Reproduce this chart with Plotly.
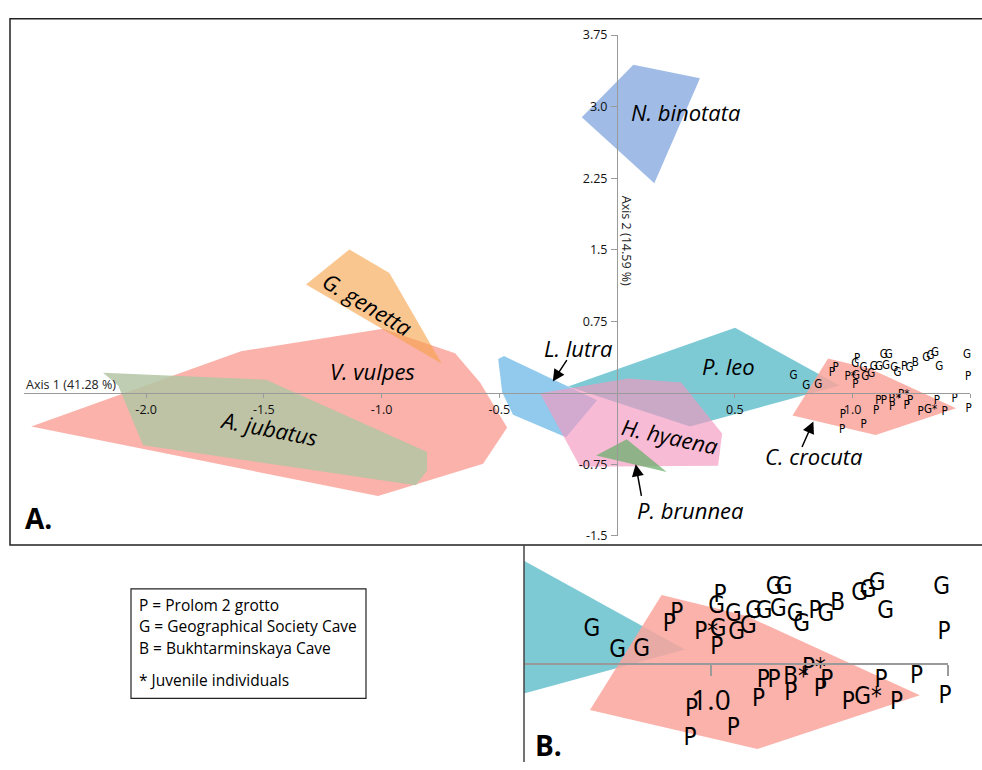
import plotly.graph_objects as go

# ---------------- data ----------------
x_tickvals = [-2.0, -1.5, -1.0, -0.5, 0.5, 1.0, 1.5]
x_ticktext = ["-2.0", "-1.5", "-1.0", "-0.5", "0.5", "1.0", ""]
y_tickvals = [3.75, 3.0, 2.25, 1.5, 0.75, -0.75, -1.5]
y_ticktext = ["3.75", "3.0", "2.25", "1.5", "0.75", "-0.75", "-1.5"]

vulpes_x = [-2.488, -1.597, -0.994, -0.688, -0.582, -0.467, -0.569, -1.015]
vulpes_y = [-0.354, 0.436, 0.672, 0.415, 0.108, -0.364, -0.744, -1.082]
genetta_x = [-1.137, -0.967, -0.744, -1.321]
genetta_y = [1.503, 1.256, 0.306, 1.136]
jubatus_x = [-2.183, -1.490, -0.807, -0.807, -0.854, -2.013, -2.119]
jubatus_y = [0.210, 0.138, -0.621, -0.815, -0.969, -0.549, 0.077]
binotata_x = [0.069, 0.352, 0.158, -0.150]
binotata_y = [3.438, 3.297, 2.197, 2.890]
lutra_x = [-0.505, -0.480, -0.085, -0.217, -0.442, -0.488]
lutra_y = [0.354, 0.385, -0.077, -0.467, -0.231, 0.005]
leo_x = [-0.208, 0.501, 0.945, 0.310]
leo_y = [0.067, 0.682, 0.077, -0.354]
hyaena_x = [-0.327, 0.047, 0.272, 0.446, 0.429, -0.157]
hyaena_y = [-0.005, 0.149, 0.108, -0.426, -0.764, -0.774]
brunnea_x = [-0.089, 0.041, 0.211]
brunnea_y = [-0.658, -0.487, -0.829]
crocuta_x = [0.896, 1.072, 1.440, 1.098, 0.745]
crocuta_y = [0.360, 0.254, -0.161, -0.441, -0.238]

species_names = ["V. vulpes", "G. genetta", "A. jubatus", "N. binotata", "L. lutra",
                 "P. leo", "H. hyaena", "P. brunnea", "C. crocuta"]
species_polys = [(vulpes_x, vulpes_y), (genetta_x, genetta_y), (jubatus_x, jubatus_y),
                 (binotata_x, binotata_y), (lutra_x, lutra_y), (leo_x, leo_y),
                 (hyaena_x, hyaena_y), (brunnea_x, brunnea_y), (crocuta_x, crocuta_y)]
species_colors = ["rgba(249,165,155,0.85)", "rgba(247,160,70,0.6)", "rgba(180,198,165,0.85)",
                  "rgba(120,160,220,0.7)", "rgba(100,180,230,0.7)", "rgba(70,180,195,0.7)",
                  "rgba(245,150,190,0.65)", "rgba(110,175,110,0.75)", "rgba(249,165,155,0.85)"]

label_x = [-1.040, -1.059, -1.478, 0.289, -0.166, 0.473, 0.225, 0.310, 0.837]
label_y = [0.231, 0.931, -0.364, 2.949, 0.467, 0.282, -0.456, -1.226, -0.662]
label_angle = [0, 31, 11, 0, 0, 0, 12, 0, 0]

point_labels = ["G", "G", "G", "P", "P", "P*", "G", "P", "G", "P", "G", "G", "G", "G", "G",
                "G", "G", "G", "G", "G", "P", "G", "B", "G", "G", "G", "G", "G", "P", "P",
                "G*", "P", "P", "P", "P", "P", "P", "P", "B*", "P", "P*", "P", "P", "P",
                "G*", "P", "P", "P"]
point_x = [0.749, 0.803, 0.854, 0.912, 0.928, 0.990, 1.015, 1.012, 1.012, 1.019, 1.047, 1.054,
           1.079, 1.090, 1.112, 1.142, 1.133, 1.154, 1.177, 1.191, 1.219, 1.242, 1.267, 1.313,
           1.331, 1.350, 1.368, 1.486, 1.491, 1.514, 1.561, 1.493, 0.959, 0.956, 1.047, 1.100,
           1.110, 1.133, 1.179, 1.168, 1.217, 1.230, 1.244, 1.289, 1.331, 1.358, 1.391, 1.433]
point_y = [0.178, 0.068, 0.076, 0.204, 0.263, 0.163, 0.178, 0.085, 0.297, 0.356, 0.254, 0.161,
           0.195, 0.271, 0.271, 0.280, 0.398, 0.398, 0.254, 0.204, 0.271, 0.254, 0.314, 0.365,
           0.382, 0.416, 0.271, 0.398, 0.161, -0.025, -0.015, -0.169, -0.238, -0.390, -0.339,
           -0.187, -0.085, -0.085, -0.071, -0.153, -0.025, -0.136, -0.085, -0.200, -0.178,
           -0.087, -0.204, -0.068]

legend_lines = ["P = Prolom 2 grotto", "G = Geographical Society Cave",
                "B = Bukhtarminskaya Cave", "* Juvenile individuals"]

# ---------------- layout helpers (pixels -> paper) ----------------
W, H = 982, 770
def px(x):
    return x / W
def py(y):
    return 1 - y / H

FONT = "Open Sans, Liberation Sans, sans-serif"
NARROW = "Liberation Sans Narrow, DejaVu Sans Condensed, Roboto, sans-serif"

fig = go.Figure()

for (xs, ys), col, name in zip(species_polys, species_colors, species_names):
    for xa, ya in (("x", "y"), ("x2", "y2")):
        fig.add_trace(go.Scatter(x=xs, y=ys, fill="toself", fillcolor=col, mode="none",
                                 name=name, showlegend=False, hoverinfo="name",
                                 xaxis=xa, yaxis=ya))

fig.add_trace(go.Scatter(x=point_x, y=point_y, text=point_labels, mode="text",
                         textfont=dict(family=NARROW, size=11.5, color="black"),
                         cliponaxis=False, showlegend=False, xaxis="x", yaxis="y"))
fig.add_trace(go.Scatter(x=point_x, y=point_y, text=point_labels, mode="text",
                         textfont=dict(family=NARROW, size=24, color="black"),
                         cliponaxis=False, showlegend=False, xaxis="x2", yaxis="y2"))

axcol = "#9a9a9a"
tickfont = dict(family=FONT, size=12.5, color="#111")

# panel A axes
fig.update_layout(
    xaxis=dict(domain=[px(23.7), px(970.3)], range=[-2.52, 1.5], anchor="free",
               position=py(392.5), showline=True, linecolor=axcol, linewidth=1,
               showgrid=False, zeroline=False, tickmode="array", tickvals=x_tickvals,
               ticktext=x_ticktext, ticks="outside", ticklen=4, tickcolor=axcol,
               tickfont=tickfont, ticklabelstandoff=1, fixedrange=True, layer="above traces"),
    yaxis=dict(domain=[py(538.8), py(26.7)], range=[-1.5, 3.75], anchor="free",
               position=px(617), showline=True, linecolor=axcol, linewidth=1,
               showgrid=False, zeroline=False, tickmode="array", tickvals=y_tickvals,
               ticktext=y_ticktext, ticks="outside", ticklen=6, tickcolor=axcol,
               tickfont=tickfont, ticklabelstandoff=1, fixedrange=True, layer="above traces"),
    xaxis2=dict(domain=[px(524), px(948.3)], range=[0.606, 1.5], anchor="free",
                position=py(670), showline=True, linecolor=axcol, linewidth=2,
                showgrid=False, zeroline=False, tickmode="array", tickvals=[1.0, 1.5],
                ticktext=["1.0", ""], ticks="outside", ticklen=11, tickwidth=2,
                tickcolor=axcol, tickfont=dict(family=FONT, size=28, color="black"),
                ticklabelstandoff=0, fixedrange=True, layer="above traces"),
    yaxis2=dict(domain=[0, py(548)], range=[-0.509, 0.621], anchor="x2", visible=False,
                fixedrange=True),
)

annotations = []
for name, lx, ly, ang in zip(species_names, label_x, label_y, label_angle):
    annotations.append(dict(x=lx, y=ly, xref="x", yref="y", text="<i>" + name + "</i>",
                            showarrow=False, textangle=ang,
                            font=dict(family=FONT, size=22, color="black")))

# arrows (tips in data coords, tails as pixel offsets)
for tx, ty, ax, ay in [(-0.273, 0.118, 15, -23), (0.079, -0.749, 6, 33), (0.8335, -0.30, -12, 27)]:
    annotations.append(dict(x=tx, y=ty, xref="x", yref="y", text="", showarrow=True,
                            ax=ax, ay=ay, arrowhead=2, arrowsize=1.6, arrowwidth=1.5,
                            arrowcolor="black"))

annotations += [
    dict(x=px(24), y=py(383.5), xref="paper", yref="paper", xanchor="left", yanchor="middle",
         text="Axis 1 (41.28 %)", showarrow=False, font=dict(family=FONT, size=12.5, color="#222")),
    dict(x=px(626), y=py(237), xref="paper", yref="paper", xanchor="center", yanchor="middle",
         text="Axis 2 (14.59 %)", textangle=90, showarrow=False,
         font=dict(family=FONT, size=12.5, color="#222")),
    dict(x=px(23), y=py(521), xref="paper", yref="paper", xanchor="left", yanchor="middle",
         text="<b>A.</b>", showarrow=False, font=dict(family=FONT, size=28, color="black")),
    dict(x=px(533), y=py(753), xref="paper", yref="paper", xanchor="left", yanchor="middle",
         text="<b>B.</b>", showarrow=False, font=dict(family=FONT, size=28, color="black")),
]
for line, yy in zip(legend_lines, [609, 631, 653, 686]):
    annotations.append(dict(x=px(137), y=py(yy), xref="paper", yref="paper", xanchor="left",
                            yanchor="middle", text=line, showarrow=False,
                            font=dict(family=FONT, size=15.5, color="black")))

shapes = [
    dict(type="rect", xref="paper", yref="paper", x0=px(10), x1=1.02, y0=py(548), y1=py(10),
         line=dict(color="#222", width=1.5), layer="above"),
    dict(type="line", xref="paper", yref="paper", x0=px(524), x1=px(524), y0=0, y1=py(548),
         line=dict(color="#444", width=1.5), layer="above"),
    dict(type="rect", xref="paper", yref="paper", x0=px(131), x1=px(366), y0=py(705), y1=py(593),
         line=dict(color="#222", width=1.2), layer="above"),
]

fig.update_layout(width=W, height=H, margin=dict(l=0, r=0, t=0, b=0),
                  paper_bgcolor="white", plot_bgcolor="white",
                  annotations=annotations, shapes=shapes, showlegend=False)

fig.write_html("out.html", post_script="document.body.style.margin='0';",
               config={"displayModeBar": False})
